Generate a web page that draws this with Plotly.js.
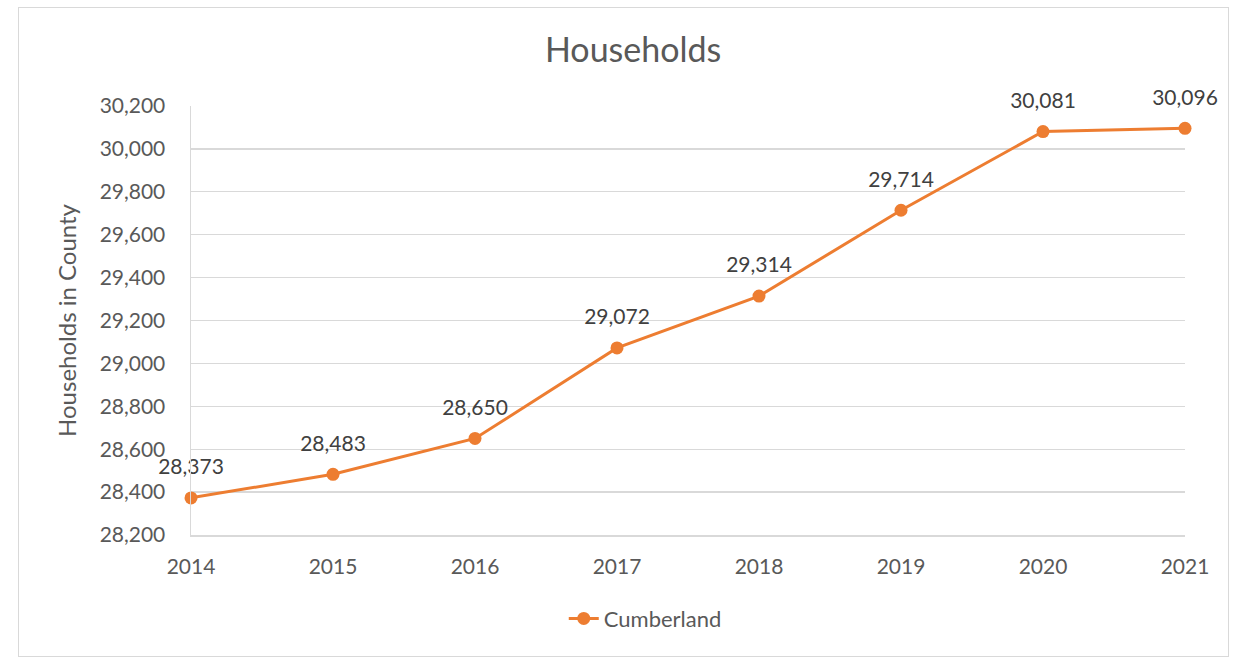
<!DOCTYPE html>
<html>
<head>
<meta charset="utf-8">
<script src="https://cdn.plot.ly/plotly-3.0.1.min.js"></script>
<style>
html,body{margin:0;padding:0;background:#fff;}
#wrap{position:relative;width:1239px;height:660px;}
#chart{position:absolute;left:0;top:0;width:1239px;height:660px;}
#frame{position:absolute;left:18px;top:7px;width:1209px;height:648px;border:1px solid #d9d9d9;pointer-events:none;}
</style>
</head>
<body>
<div id="wrap"><div id="chart"></div><div id="frame"></div></div>
<script>
const years = [2014, 2015, 2016, 2017, 2018, 2019, 2020, 2021];
const households = [28373, 28483, 28650, 29072, 29314, 29714, 30081, 30096];
const seriesName = 'Cumberland';

const fontFam = 'Lato, "Open Sans", sans-serif';
const orange = '#ED7D31';
const textCol = '#595959';

Plotly.newPlot('chart', [{
  x: years,
  y: households,
  name: seriesName,
  type: 'scatter',
  mode: 'lines+markers',
  line: {color: orange, width: 3},
  marker: {color: orange, size: 13},
  cliponaxis: false
}, {
  x: years,
  y: households,
  type: 'scatter',
  mode: 'markers+text',
  showlegend: false,
  marker: {color: 'rgba(0,0,0,0)', size: 28},
  text: households.map(v => v.toLocaleString('en-US')),
  textposition: 'top center',
  textfont: {family: fontFam, size: 21, color: '#404040'},
  cliponaxis: false
}], {
  width: 1239, height: 660,
  margin: {l: 191, r: 54, t: 106, b: 125},
  paper_bgcolor: 'rgba(0,0,0,0)',
  plot_bgcolor: '#fff',
  title: {text: 'Households', font: {family: fontFam, size: 34, color: textCol}, x: 0.511, xanchor: 'center', y: 0.924, yanchor: 'middle'},
  xaxis: {
    range: [2014, 2021], dtick: 1, tick0: 2014,
    showgrid: false, zeroline: false,
    showline: true, linecolor: '#d9d9d9', linewidth: 1.5,
    ticks: '', ticklabelstandoff: 12,
    tickfont: {family: fontFam, size: 21, color: textCol}
  },
  yaxis: {
    range: [28200, 30200], dtick: 200, tick0: 28200,
    tickformat: ',d',
    showgrid: true, gridcolor: '#d9d9d9', gridwidth: 1.3,
    zeroline: false,
    showline: true, linecolor: '#d9d9d9', linewidth: 1.5,
    ticks: '', ticklabelstandoff: 20,
    tickfont: {family: fontFam, size: 21, color: textCol},
    title: {text: 'Households in County', font: {family: fontFam, size: 24, color: textCol}, standoff: 16}
  },
  showlegend: true,
  legend: {orientation: 'h', x: 0.457, xanchor: 'center', y: -0.195, yanchor: 'middle',
    font: {family: fontFam, size: 22, color: textCol}}
}, {displayModeBar: false, staticPlot: true});
</script>
</body>
</html>
